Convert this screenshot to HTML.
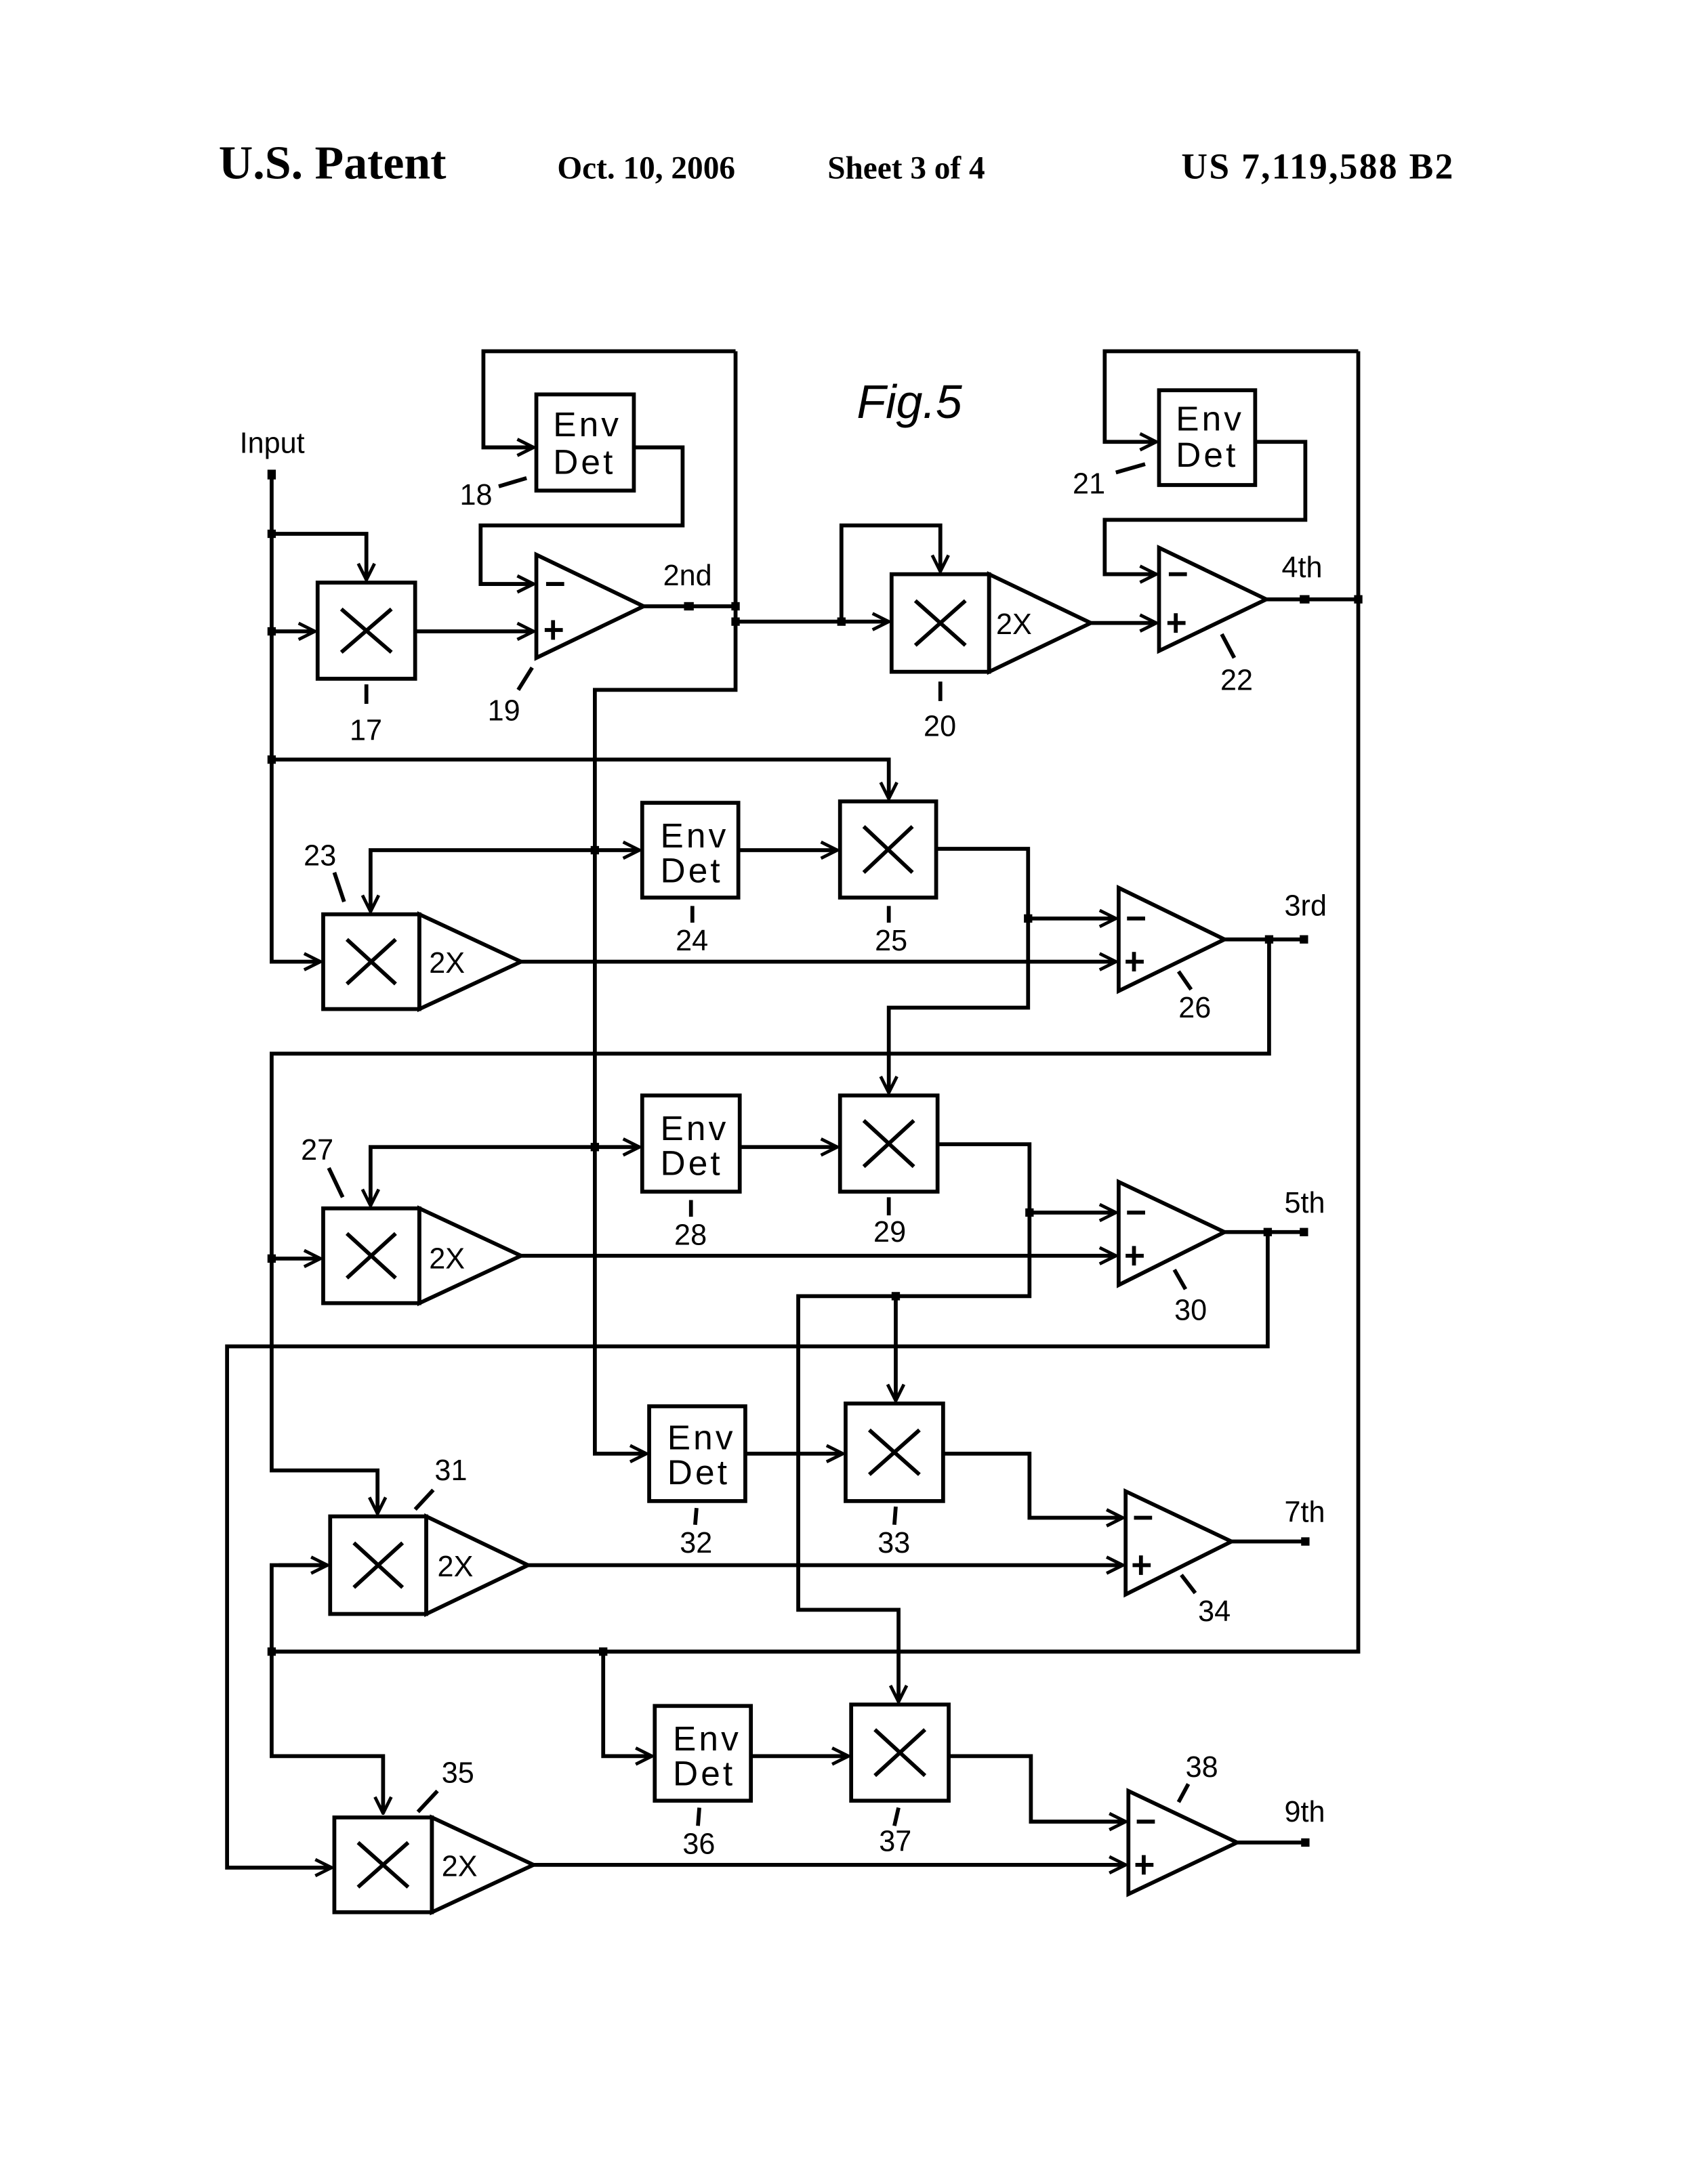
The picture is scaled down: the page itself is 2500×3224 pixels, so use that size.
<!DOCTYPE html>
<html><head><meta charset="utf-8"><style>
html,body{margin:0;padding:0;background:#fff}
svg{display:block}
.t{font-family:"Liberation Sans Narrow","Liberation Sans",sans-serif;font-size:21px;fill:#000}
.e{font-family:"Liberation Sans",sans-serif;font-size:25px;fill:#000;letter-spacing:2px}
.h{font-family:"Liberation Serif",serif;font-weight:bold;fill:#000}
</style></head><body>
<svg width="2500" height="3224" viewBox="0 0 1216 1567" preserveAspectRatio="none" xmlns="http://www.w3.org/2000/svg">
<defs>
<marker id="a" viewBox="0 0 12 12" refX="11" refY="6" markerWidth="14" markerHeight="14" markerUnits="userSpaceOnUse" orient="auto">
<path d="M1,1 L11,6 L1,11" fill="none" stroke="#000" stroke-width="2"/>
</marker>
</defs>
<!-- header -->
<text class="h" x="157" y="128" font-size="34">U.S. Patent</text>
<text class="h" x="400" y="128" font-size="23">Oct. 10, 2006</text>
<text class="h" x="594" y="128" font-size="23">Sheet 3 of 4</text>
<text class="h" x="848" y="128" font-size="26" textLength="195">US 7,119,588 B2</text>
<text x="615" y="300" font-family="Liberation Sans,sans-serif" font-style="italic" font-size="34">Fig.5</text>
<text class="t" x="172" y="325">Input</text>

<g fill="none" stroke="#000" stroke-width="2.8">
<polyline points="195,340 195,690 230,690" marker-end="url(#a)"/>
<polyline points="195,383 263,383 263,416" marker-end="url(#a)"/>
<polyline points="195,453 226,453" marker-end="url(#a)"/>
<polyline points="195,545 638,545 638,573" marker-end="url(#a)"/>
<rect x="228" y="418" width="70" height="69"/>
<polyline points="298,453 383,453" marker-end="url(#a)"/>
<polygon points="385,398 462,435 385,472"/>
<polyline points="462,435 528,435"/>
<polyline points="528,252 528,495 427,495 427,1043 464,1043" marker-end="url(#a)"/>
<polyline points="528,252 347,252 347,321 383,321" marker-end="url(#a)"/>
<rect x="385" y="283" width="70" height="69"/>
<polyline points="455,321 490,321 490,377 345,377 345,419 383,419" marker-end="url(#a)"/>
<polyline points="528,446 638,446" marker-end="url(#a)"/>
<polyline points="604,446 604,377 675,377 675,410" marker-end="url(#a)"/>
<rect x="640" y="412" width="70" height="70"/>
<polygon points="710,412 783,447 710,482"/>
<polyline points="783,447 830,447" marker-end="url(#a)"/>
<polygon points="832,393 909,430 832,467"/>
<polyline points="909,430 975,430"/>
<polyline points="975,252 975,1185 195,1185"/>
<polyline points="975,252 793,252 793,317 830,317" marker-end="url(#a)"/>
<rect x="832" y="280" width="69" height="68"/>
<polyline points="901,317 937,317 937,373 793,373 793,412 830,412" marker-end="url(#a)"/>
<rect x="232" y="656" width="69" height="68"/>
<polygon points="301,656 374,690 301,724"/>
<polyline points="374,690 801,690" marker-end="url(#a)"/>
<polyline points="427,610 266,610 266,654" marker-end="url(#a)"/>
<polyline points="427,610 459,610" marker-end="url(#a)"/>
<rect x="461" y="576" width="69" height="68"/>
<polyline points="530,610 601,610" marker-end="url(#a)"/>
<rect x="603" y="575" width="69" height="69"/>
<polyline points="672,609 738,609 738,723 638,723 638,784" marker-end="url(#a)"/>
<polyline points="738,659 801,659" marker-end="url(#a)"/>
<polygon points="803,637 879,674 803,711"/>
<polyline points="879,674 936,674"/>
<polyline points="911,674 911,756 195,756 195,1055 271,1055 271,1086" marker-end="url(#a)"/>
<polyline points="195,903 230,903" marker-end="url(#a)"/>
<rect x="232" y="867" width="69" height="68"/>
<polygon points="301,867 374,901 301,935"/>
<polyline points="374,901 801,901" marker-end="url(#a)"/>
<polyline points="427,823 266,823 266,865" marker-end="url(#a)"/>
<polyline points="427,823 459,823" marker-end="url(#a)"/>
<rect x="461" y="786" width="70" height="69"/>
<polyline points="531,823 601,823" marker-end="url(#a)"/>
<rect x="603" y="786" width="70" height="69"/>
<polyline points="673,821 739,821 739,930 573,930 573,1155 645,1155 645,1221" marker-end="url(#a)"/>
<polyline points="739,870 801,870" marker-end="url(#a)"/>
<polyline points="643,930 643,1005" marker-end="url(#a)"/>
<polygon points="803,848 879,884 803,922"/>
<polyline points="879,884 936,884"/>
<polyline points="910,884 910,966 163,966 163,1340 238,1340" marker-end="url(#a)"/>
<polyline points="235,1123 195,1123 195,1260 275,1260 275,1301" marker-end="url(#a)"/>
<polyline points="200,1123 235,1123" marker-end="url(#a)"/>
<rect x="237" y="1088" width="69" height="70"/>
<polygon points="306,1088 379,1123 306,1158"/>
<polyline points="379,1123 806,1123" marker-end="url(#a)"/>
<rect x="466" y="1009" width="69" height="68"/>
<polyline points="535,1043 605,1043" marker-end="url(#a)"/>
<rect x="607" y="1007" width="70" height="70"/>
<polyline points="677,1043 739,1043 739,1089 806,1089" marker-end="url(#a)"/>
<polygon points="808,1070 884,1106 808,1144"/>
<polyline points="884,1106 937,1106"/>
<polyline points="433,1185 433,1260 468,1260" marker-end="url(#a)"/>
<rect x="240" y="1304" width="70" height="68"/>
<polygon points="310,1304 383,1338 310,1372"/>
<polyline points="383,1338 808,1338" marker-end="url(#a)"/>
<rect x="470" y="1224" width="69" height="68"/>
<polyline points="539,1260 609,1260" marker-end="url(#a)"/>
<rect x="611" y="1223" width="70" height="69"/>
<polyline points="681,1260 740,1260 740,1307 808,1307" marker-end="url(#a)"/>
<polygon points="810,1285 888,1322 810,1359"/>
<polyline points="888,1322 937,1322"/>
<path d="M245,437 L281,468 M281,437 L245,468"/>
<path d="M657,431 L693,463 M693,431 L657,463"/>
<path d="M249,674 L284,706 M284,674 L249,706"/>
<path d="M620,593 L655,626 M655,593 L620,626"/>
<path d="M249,885 L284,917 M284,885 L249,917"/>
<path d="M620,804 L656,837 M656,804 L620,837"/>
<path d="M254,1107 L289,1139 M289,1107 L254,1139"/>
<path d="M624,1026 L660,1058 M660,1026 L624,1058"/>
<path d="M257,1322 L293,1354 M293,1322 L257,1354"/>
<path d="M628,1241 L664,1274 M664,1241 L628,1274"/>
<path d="M263,491 L263,505 M358,349 L378,343 M372,495 L382,479 M675,489 L675,503 M801,339 L822,333 M877,455 L886,472 M240,626 L247,647 M497,650 L497,662 M638,650 L638,662 M846,697 L855,710 M236,838 L246,859 M496,861 L496,873 M638,859 L638,872 M843,911 L851,925 M298,1083 L311,1069 M500,1082 L499,1094 M643,1081 L642,1094 M848,1130 L858,1143 M300,1300 L314,1285 M502,1297 L501,1310 M645,1297 L642,1310 M846,1293 L853,1280"/>
<path d="M392,419 L405,419 M391,452 L404,452 M397,445 L397,459"/>
<path d="M839,412 L852,412 M838,447 L851,447 M844,440 L844,454"/>
<path d="M809,659 L822,659 M808,690 L821,690 M814,683 L814,697"/>
<path d="M809,870 L822,870 M808,901 L821,901 M814,894 L814,908"/>
<path d="M814,1089 L827,1089 M813,1123 L826,1123 M819,1116 L819,1130"/>
<path d="M816,1307 L829,1307 M815,1338 L828,1338 M821,1331 L821,1345"/>
</g>
<g fill="#000">
<rect x="192" y="337" width="6" height="7"/>
<rect x="192" y="380" width="6" height="6"/>
<rect x="192" y="450" width="6" height="6"/>
<rect x="192" y="542" width="6" height="6"/>
<rect x="491" y="432" width="7" height="6"/>
<rect x="525" y="432" width="6" height="6"/>
<rect x="525" y="443" width="6" height="6"/>
<rect x="601" y="443" width="6" height="6"/>
<rect x="933" y="427" width="7" height="6"/>
<rect x="972" y="427" width="6" height="6"/>
<rect x="424" y="607" width="6" height="6"/>
<rect x="424" y="820" width="6" height="6"/>
<rect x="735" y="656" width="6" height="6"/>
<rect x="736" y="867" width="6" height="6"/>
<rect x="908" y="671" width="6" height="6"/>
<rect x="933" y="671" width="6" height="6"/>
<rect x="907" y="881" width="6" height="6"/>
<rect x="933" y="881" width="6" height="6"/>
<rect x="640" y="927" width="6" height="6"/>
<rect x="192" y="900" width="6" height="6"/>
<rect x="192" y="1182" width="6" height="6"/>
<rect x="430" y="1182" width="6" height="6"/>
<rect x="934" y="1103" width="6" height="6"/>
<rect x="934" y="1319" width="6" height="6"/>
</g>
<g class="e">
<text x="397" y="313">Env</text><text x="397" y="340">Det</text>
<text x="844" y="309">Env</text><text x="844" y="335">Det</text>
<text x="474" y="608">Env</text><text x="474" y="633">Det</text>
<text x="474" y="818">Env</text><text x="474" y="843">Det</text>
<text x="479" y="1040">Env</text><text x="479" y="1065">Det</text>
<text x="483" y="1256">Env</text><text x="483" y="1281">Det</text>
</g>
<g class="t">
<text x="308" y="698">2X</text><text x="715" y="455">2X</text>
<text x="308" y="910">2X</text><text x="314" y="1131">2X</text><text x="317" y="1346">2X</text>
<text x="476" y="420">2nd</text><text x="920" y="414">4th</text>
<text x="922" y="657">3rd</text><text x="922" y="870">5th</text>
<text x="922" y="1092">7th</text><text x="922" y="1307">9th</text>
<text x="251" y="531">17</text><text x="330" y="362">18</text><text x="350" y="517">19</text>
<text x="663" y="528">20</text><text x="770" y="354">21</text><text x="876" y="495">22</text>
<text x="218" y="621">23</text><text x="485" y="682">24</text><text x="628" y="682">25</text>
<text x="846" y="730">26</text><text x="216" y="832">27</text><text x="484" y="893">28</text>
<text x="627" y="891">29</text><text x="843" y="947">30</text><text x="312" y="1062">31</text>
<text x="488" y="1114">32</text><text x="630" y="1114">33</text><text x="860" y="1163">34</text>
<text x="317" y="1279">35</text><text x="490" y="1330">36</text><text x="631" y="1328">37</text>
<text x="851" y="1275">38</text>
</g>
</svg>
</body></html>
